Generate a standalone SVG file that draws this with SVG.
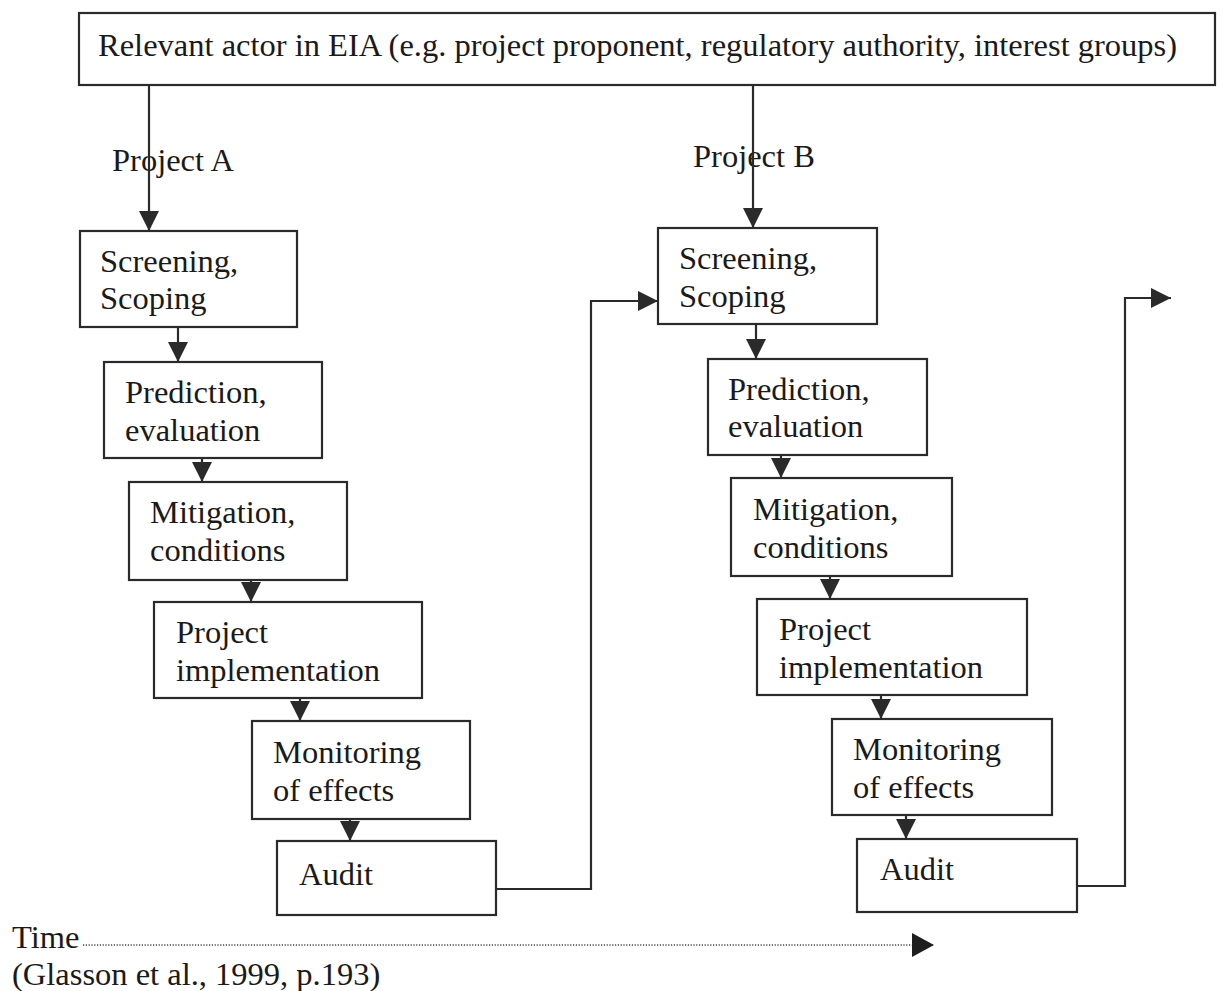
<svg xmlns="http://www.w3.org/2000/svg" width="1224" height="991" viewBox="0 0 1224 991">
  <style>
    .box { fill: #ffffff; stroke: #2a2a2a; stroke-width: 2.2; }
    .lbl { font-family: "Liberation Serif", "Times New Roman", serif; font-size: 32.5px; fill: #1a1a1a; }
    .conn { fill: none; stroke: #2a2a2a; stroke-width: 2.2; marker-end: url(#head); }
    .time { fill: none; stroke: #444444; stroke-width: 1.6; stroke-dasharray: 1.2 1.6; marker-end: url(#timehead); }
  </style>
  <defs>
    <marker id="head" viewBox="0 0 20 20" refX="20" refY="10" markerWidth="20" markerHeight="20" markerUnits="userSpaceOnUse" orient="auto">
      <path d="M0,0 L20,10 L0,20 Z" fill="#2a2a2a"/>
    </marker>
    <marker id="timehead" viewBox="0 0 22 24" refX="22" refY="12" markerWidth="22" markerHeight="24" markerUnits="userSpaceOnUse" orient="auto">
      <path d="M0,0 L22,12 L0,24 Z" fill="#1e1e1e"/>
    </marker>
  </defs>

  <rect width="1224" height="991" fill="#ffffff"/>

  <!-- actor box -->
  <g id="actor">
    <rect class="box" x="79" y="13" width="1136" height="72"/>
    <text class="lbl" x="98" y="56">Relevant actor in EIA (e.g. project proponent, regulatory authority, interest groups)</text>
  </g>

  <!-- Project A chain -->
  <g id="a-screening">
    <rect class="box" x="80" y="231" width="217" height="96"/>
    <text class="lbl" x="100" y="272">Screening,</text>
    <text class="lbl" x="100" y="309">Scoping</text>
  </g>
  <g id="a-prediction">
    <rect class="box" x="104" y="362" width="218" height="96"/>
    <text class="lbl" x="125" y="403">Prediction,</text>
    <text class="lbl" x="125" y="441">evaluation</text>
  </g>
  <g id="a-mitigation">
    <rect class="box" x="129" y="482" width="218" height="98"/>
    <text class="lbl" x="150" y="523">Mitigation,</text>
    <text class="lbl" x="150" y="561">conditions</text>
  </g>
  <g id="a-implementation">
    <rect class="box" x="154" y="602" width="268" height="96"/>
    <text class="lbl" x="176" y="643">Project</text>
    <text class="lbl" x="176" y="681">implementation</text>
  </g>
  <g id="a-monitoring">
    <rect class="box" x="252" y="721" width="218" height="98"/>
    <text class="lbl" x="273" y="763">Monitoring</text>
    <text class="lbl" x="273" y="801">of effects</text>
  </g>
  <g id="a-audit">
    <rect class="box" x="277" y="841" width="219" height="74"/>
    <text class="lbl" x="299" y="885">Audit</text>
  </g>

  <!-- Project B chain -->
  <g id="b-screening">
    <rect class="box" x="658" y="228" width="219" height="96"/>
    <text class="lbl" x="679" y="269">Screening,</text>
    <text class="lbl" x="679" y="307">Scoping</text>
  </g>
  <g id="b-prediction">
    <rect class="box" x="708" y="359" width="219" height="96"/>
    <text class="lbl" x="728" y="400">Prediction,</text>
    <text class="lbl" x="728" y="437">evaluation</text>
  </g>
  <g id="b-mitigation">
    <rect class="box" x="731" y="478" width="221" height="98"/>
    <text class="lbl" x="753" y="520">Mitigation,</text>
    <text class="lbl" x="753" y="558">conditions</text>
  </g>
  <g id="b-implementation">
    <rect class="box" x="757" y="599" width="270" height="96"/>
    <text class="lbl" x="779" y="640">Project</text>
    <text class="lbl" x="779" y="678">implementation</text>
  </g>
  <g id="b-monitoring">
    <rect class="box" x="832" y="719" width="220" height="96"/>
    <text class="lbl" x="853" y="760">Monitoring</text>
    <text class="lbl" x="853" y="798">of effects</text>
  </g>
  <g id="b-audit">
    <rect class="box" x="857" y="839" width="220" height="73"/>
    <text class="lbl" x="880" y="880">Audit</text>
  </g>

  <!-- project labels -->
  <g id="labels">
    <text class="lbl" x="112" y="171">Project A</text>
    <text class="lbl" x="693" y="167">Project B</text>
  </g>

  <!-- connectors -->
  <g id="connectors">
    <line class="conn" x1="149" y1="85" x2="149" y2="231"/>
    <line class="conn" x1="753" y1="85" x2="753" y2="228"/>

    <line class="conn" x1="178" y1="327" x2="178" y2="362"/>
    <line class="conn" x1="202" y1="458" x2="202" y2="482"/>
    <line class="conn" x1="251" y1="580" x2="251" y2="602"/>
    <line class="conn" x1="300" y1="698" x2="300" y2="721"/>
    <line class="conn" x1="350" y1="819" x2="350" y2="841"/>

    <line class="conn" x1="756" y1="324" x2="756" y2="359"/>
    <line class="conn" x1="781" y1="455" x2="781" y2="478"/>
    <line class="conn" x1="830" y1="576" x2="830" y2="599"/>
    <line class="conn" x1="881" y1="695" x2="881" y2="719"/>
    <line class="conn" x1="906" y1="815" x2="906" y2="839"/>

    <polyline class="conn" points="496,889 591,889 591,301 658,301"/>
    <polyline class="conn" points="1077,886 1125,886 1125,298 1171,298"/>

    <line class="time" x1="83" y1="945" x2="934" y2="945"/>
  </g>

  <!-- timeline caption -->
  <g id="caption">
    <text class="lbl" x="12" y="948">Time</text>
    <text class="lbl" x="12" y="985">(Glasson et al., 1999, p.193)</text>
  </g>
</svg>
